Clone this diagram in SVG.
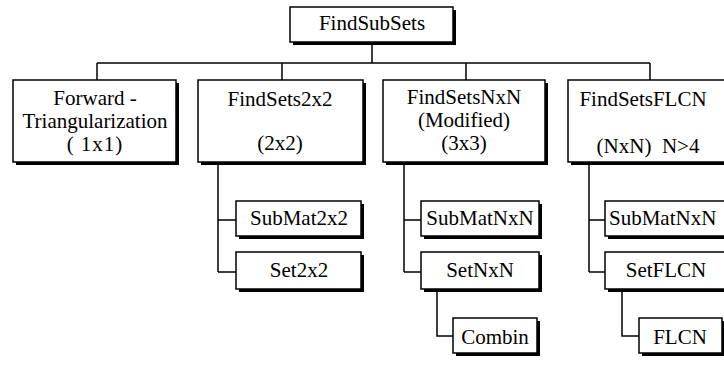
<svg xmlns="http://www.w3.org/2000/svg" width="724" height="366" viewBox="0 0 724 366">
  <style>
    .shadow { fill: #000; }
    .box { fill: #fff; stroke: #000; stroke-width: 1.5; }
    .lbl { font-family: "Liberation Serif", "Times New Roman", serif; font-size: 21px; fill: #000; text-anchor: middle; }
    .lbl.left { text-anchor: start; }
    .wire { fill: none; stroke: #000; stroke-width: 1.5; }
  </style>
  <rect width="724" height="366" fill="#fff"/>

  <!-- tree connectors -->
  <g id="connectors">
    <path class="wire" d="M372 43 V63 M97 63 H650 M97 63 V80 M282 63 V80 M466 63 V80 M650 63 V80"/>
    <path class="wire" d="M218 163 V272 M218 220 H236 M218 272 H236"/>
    <path class="wire" d="M404 163 V272 M404 220 H421 M404 272 H421"/>
    <path class="wire" d="M437 290 V336 H453"/>
    <path class="wire" d="M589 163 V272 M589 220 H605 M589 272 H605"/>
    <path class="wire" d="M622 290 V336 H639"/>
  </g>

  <g id="FindSubSets">
    <rect class="shadow" x="293" y="10" width="163" height="35"/>
    <rect class="box" x="290" y="7" width="163" height="35"/>
    <text class="lbl" x="372" y="30">FindSubSets</text>
  </g>

  <g id="ForwardTriangularization">
    <rect class="shadow" x="16" y="83" width="163" height="82"/>
    <rect class="box" x="13" y="80" width="163" height="82"/>
    <text class="lbl" x="95" y="105">Forward -</text>
    <text class="lbl" x="95" y="128">Triangularization</text>
    <text class="lbl" x="95" y="151" letter-spacing="1">( 1x1)</text>
  </g>

  <g id="FindSets2x2">
    <rect class="shadow" x="201" y="83" width="165" height="82"/>
    <rect class="box" x="198" y="80" width="165" height="82"/>
    <text class="lbl" x="280" y="106">FindSets2x2</text>
    <text class="lbl" x="280" y="150">(2x2)</text>
  </g>

  <g id="FindSetsNxN">
    <rect class="shadow" x="386" y="83" width="162" height="82"/>
    <rect class="box" x="383" y="80" width="162" height="82"/>
    <text class="lbl" x="464" y="104">FindSetsNxN</text>
    <text class="lbl" x="464" y="127">(Modified)</text>
    <text class="lbl" x="464" y="150">(3x3)</text>
  </g>

  <g id="FindSetsFLCN">
    <rect class="shadow" x="571" y="83" width="164" height="82"/>
    <rect class="box" x="568" y="80" width="164" height="82"/>
    <text class="lbl" x="643" y="106">FindSetsFLCN</text>
    <text class="lbl" x="648" y="153" xml:space="preserve">(NxN)  N&gt;4</text>
  </g>

  <g id="SubMat2x2">
    <rect class="shadow" x="239" y="204" width="125" height="35"/>
    <rect class="box" x="236" y="201" width="125" height="35"/>
    <text class="lbl" x="299" y="225">SubMat2x2</text>
  </g>

  <g id="Set2x2">
    <rect class="shadow" x="239" y="255" width="125" height="37"/>
    <rect class="box" x="236" y="252" width="125" height="37"/>
    <text class="lbl" x="299" y="277">Set2x2</text>
  </g>

  <g id="SubMatNxN">
    <rect class="shadow" x="424" y="204" width="118" height="35"/>
    <rect class="box" x="421" y="201" width="118" height="35"/>
    <text class="lbl" x="480" y="225">SubMatNxN</text>
  </g>

  <g id="SetNxN">
    <rect class="shadow" x="424" y="255" width="118" height="37"/>
    <rect class="box" x="421" y="252" width="118" height="37"/>
    <text class="lbl" x="480" y="277">SetNxN</text>
  </g>

  <g id="Combin">
    <rect class="shadow" x="456" y="321" width="84" height="35"/>
    <rect class="box" x="453" y="318" width="84" height="35"/>
    <text class="lbl" x="495" y="344">Combin</text>
  </g>

  <g id="SubMatNxN-FLCN">
    <rect class="shadow" x="608" y="204" width="120" height="35"/>
    <rect class="box" x="605" y="201" width="120" height="35"/>
    <text class="lbl left" x="609" y="225">SubMatNxN</text>
  </g>

  <g id="SetFLCN">
    <rect class="shadow" x="608" y="255" width="120" height="37"/>
    <rect class="box" x="605" y="252" width="120" height="37"/>
    <text class="lbl" x="666" y="277">SetFLCN</text>
  </g>

  <g id="FLCN">
    <rect class="shadow" x="642" y="321" width="83" height="35"/>
    <rect class="box" x="639" y="318" width="83" height="35"/>
    <text class="lbl" x="680" y="344">FLCN</text>
  </g>
</svg>
